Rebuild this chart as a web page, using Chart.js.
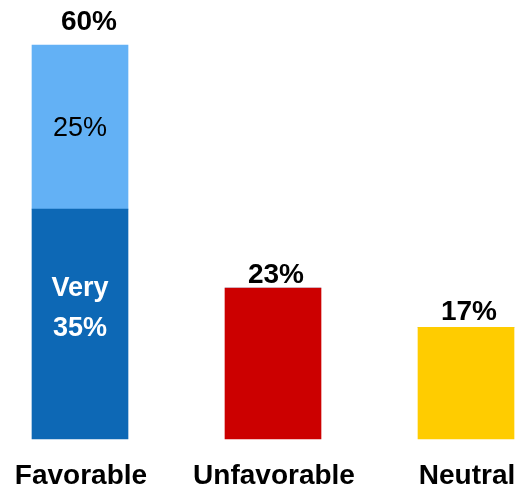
<!DOCTYPE html>
<html>
<head>
<meta charset="utf-8">
<script src="https://cdn.jsdelivr.net/npm/chart.js@4"></script>
<style>
html,body{margin:0;padding:0;background:#fff;}
#wrap{width:517px;height:487px;position:relative;}
</style>
</head>
<body>
<div id="wrap"><canvas id="c" width="517" height="487"></canvas></div>
<script>
const categories = ["Favorable", "Unfavorable", "Neutral"];
const baseValues = [35, 23, 17];
const topValues = [25, 0, 0];
const totals = [60, 23, 17];
const innerBaseLabel = ["Very", "35%"];
const innerTopLabel = "25%";
const baseColors = ["#0D68B5", "#CC0000", "#FFCC00"];
const topColor = "#63B1F5";

const FONT = "'Liberation Sans', Arial, sans-serif";

const labelPlugin = {
  id: 'labels',
  afterDatasetsDraw(chart) {
    const ctx = chart.ctx;
    const xs = chart.scales.x, ys = chart.scales.y;
    ctx.save();
    ctx.textAlign = 'center';
    // totals above bars
    ctx.font = "bold 28px " + FONT;
    ctx.fillStyle = "#000";
    ctx.textBaseline = 'alphabetic';
    const dx = [9, 3, 3];
    const gap = [15, 5, 7];
    totals.forEach((v, i) => {
      const x = xs.getPixelForValue(i) + dx[i];
      const y = ys.getPixelForValue(v) - gap[i];
      ctx.fillText(v + "%", x, y);
    });
    // inner labels on Favorable
    const x0 = xs.getPixelForValue(0);
    const yb0 = ys.getPixelForValue(0), yb1 = ys.getPixelForValue(baseValues[0]);
    const yt1 = ys.getPixelForValue(baseValues[0] + topValues[0]);
    ctx.textBaseline = 'middle';
    ctx.font = "27px " + FONT;
    ctx.fillStyle = "#000";
    ctx.fillText(innerTopLabel, x0, (yb1 + yt1) / 2 + 1);
    ctx.font = "bold 27px " + FONT;
    ctx.fillStyle = "#fff";
    const mid = (yb0 + yb1) / 2;
    ctx.fillText(innerBaseLabel[0], x0, mid - 36);
    ctx.fillText(innerBaseLabel[1], x0, mid + 4);
    // category labels
    ctx.font = "bold 28px " + FONT;
    ctx.fillStyle = "#000";
    ctx.textBaseline = 'alphabetic';
    categories.forEach((c, i) => {
      ctx.fillText(c, xs.getPixelForValue(i) + 1, yb0 + 45);
    });
    ctx.restore();
  }
};

new Chart(document.getElementById('c'), {
  type: 'bar',
  data: {
    labels: categories,
    datasets: [
      { data: baseValues, backgroundColor: baseColors, borderWidth: 0, barThickness: 96, clip: false },
      { data: topValues, backgroundColor: topColor, borderWidth: 0, barThickness: 96, clip: false }
    ]
  },
  options: {
    responsive: false,
    animation: false,
    devicePixelRatio: 1,
    layout: { padding: { left: 80, right: 51, top: 45, bottom: 48 } },
    plugins: { legend: { display: false }, tooltip: { enabled: false } },
    scales: {
      x: { stacked: true, offset: false, display: false, grid: { display: false } },
      y: { stacked: true, min: 0, max: 60, display: false, grid: { display: false } }
    }
  },
  plugins: [labelPlugin]
});
</script>
</body>
</html>
